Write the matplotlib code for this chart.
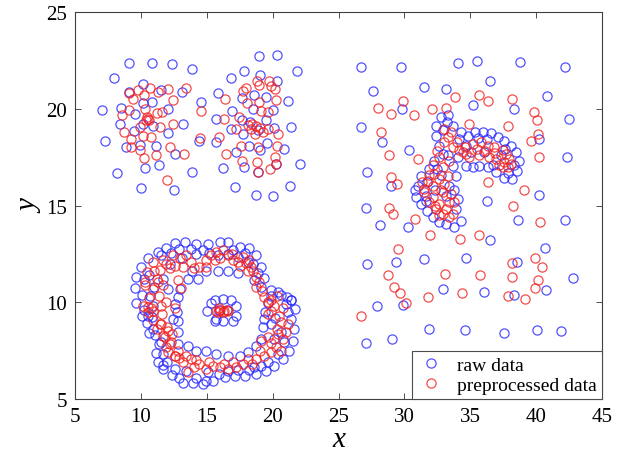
import matplotlib
matplotlib.use('Agg')
import matplotlib.pyplot as plt

# ---- raw data (blue) ----
raw_blob_left = [
    (9.09, 22.38), (10.81, 22.38), (12.37, 22.33), (7.95, 21.59), (10.18, 21.3), (11.52, 20.99),
    (13.08, 20.87), (9.09, 20.87), (7.07, 19.95), (8.46, 20.04), (10.12, 20.3), (10.81, 20.38),
    (9.55, 19.74), (12.07, 20.0), (8.41, 19.23), (10.18, 19.23), (10.89, 19.1), (9.47, 18.88),
    (12.02, 18.76), (7.27, 18.33), (8.86, 18.02), (9.92, 18.14), (11.11, 18.1), (12.58, 17.67),
    (10.3, 16.93), (11.39, 17.12), (8.16, 16.67), (9.98, 15.92), (12.5, 15.83),
]
raw_blob_right = [
    (18.94, 22.73), (20.35, 22.8), (13.89, 22.07), (17.83, 21.97), (16.87, 21.62), (19.02, 21.76),
    (20.33, 21.44), (21.84, 21.95), (15.86, 20.81), (14.55, 20.35), (17.63, 20.56), (18.56, 20.73),
    (19.47, 20.59), (21.16, 20.43), (16.94, 19.9), (18.5, 20.0), (20.02, 19.95), (15.66, 19.49),
    (13.16, 19.23), (17.7, 19.45), (19.47, 19.4), (16.87, 18.97), (20.1, 19.0), (21.42, 19.05),
    (14.39, 18.36), (15.68, 18.28), (17.75, 18.71), (18.2, 18.1), (19.57, 18.24), (20.86, 17.93),
    (17.25, 17.76), (19.02, 17.85), (17.8, 17.02), (20.23, 17.16), (22.09, 17.16), (16.24, 16.93),
    (13.84, 16.73), (18.89, 16.76), (17.12, 15.95), (18.71, 15.55), (20.02, 15.52), (21.33, 15.99),
    (18.3, 19.3), (18.9, 18.9),
]
raw_ring = [
    (12.55, 13.05), (13.31, 13.11), (14.19, 13.0), (15.08, 13.0), (15.96, 13.11), (16.59, 13.11),
    (17.48, 12.88), (18.23, 12.8), (18.73, 12.45), (19.11, 11.84), (19.37, 11.24), (19.87, 10.64),
    (20.63, 10.38), (21.39, 10.12), (11.92, 12.8), (11.31, 12.59), (10.53, 12.28), (9.98, 11.84),
    (9.64, 11.33), (9.57, 10.73), (9.64, 9.95), (10.05, 9.28), (10.43, 8.93), (11.06, 8.31),
    (11.39, 7.85), (11.69, 7.33), (11.69, 6.76), (12.33, 6.24), (13.2, 5.83), (13.92, 5.83),
    (14.67, 5.78), (15.48, 5.95), (16.34, 6.12), (17.1, 6.21), (17.86, 6.21), (18.73, 6.29),
    (19.49, 6.46), (20.13, 6.72), (20.76, 7.07), (21.27, 7.5), (21.52, 8.02), (21.64, 8.62),
    (21.39, 9.14), (21.14, 9.49), (21.67, 9.66), (21.42, 10.09), (21.08, 10.26), (20.4, 10.52),
    (11.54, 12.45), (12.3, 12.54), (15.2, 12.54), (15.83, 12.45), (17.35, 12.36), (18.11, 12.1),
    (14.95, 11.59), (15.81, 11.59), (16.59, 11.59), (17.35, 11.5), (18.61, 11.16), (19.11, 10.81),
    (13.84, 11.64), (14.34, 11.21), (13.58, 11.21), (12.83, 10.26), (12.95, 10.69), (12.58, 9.91),
    (12.7, 9.49), (12.45, 9.14), (12.83, 9.05), (10.93, 9.83), (10.68, 10.34), (10.81, 9.23),
    (12.07, 10.69), (11.69, 11.21), (10.53, 9.31), (10.91, 8.62), (11.54, 7.93), (12.8, 8.45),
    (12.8, 7.85), (13.56, 7.76), (14.19, 7.5), (14.95, 7.5), (15.7, 7.33), (16.59, 7.24),
    (17.48, 7.24), (18.11, 7.42), (18.73, 7.76), (19.11, 8.1), (19.24, 8.71), (19.37, 9.14),
    (19.87, 8.88), (20.13, 8.1), (20.63, 8.45), (20.88, 7.93), (11.67, 6.55), (12.55, 6.55),
    (13.43, 6.46), (15.08, 6.38), (16.59, 6.46), (18.61, 6.64), (19.62, 6.9), (19.9, 10.34),
    (19.64, 9.97), (19.39, 9.49), (10.6, 11.4), (11.0, 10.8), (12.2, 12.0), (13.1, 12.3),
    (14.2, 12.5), (16.6, 12.5), (12.9, 12.75), (13.8, 12.75), (14.7, 12.7), (17.0, 12.7),
    (17.9, 12.55), (18.5, 12.0), (18.9, 11.5), (10.2, 11.2), (10.1, 10.4), (10.2, 9.6),
    (10.6, 8.4), (11.1, 7.4), (11.3, 6.9), (12.0, 6.9), (12.9, 6.1), (14.2, 6.1),
    (14.9, 5.95), (15.9, 6.3), (17.4, 6.5), (18.2, 6.5), (19.1, 6.7), (20.4, 7.3),
    (21.0, 9.9), (20.2, 9.2),
]
raw_core = [
    (15.61, 10.09), (16.24, 10.17), (16.87, 10.09), (17.25, 9.83), (17.25, 9.31), (17.0, 9.05),
    (16.24, 9.05), (15.61, 9.05), (14.98, 9.57), (15.35, 9.97), (15.73, 9.14), (15.95, 9.6),
    (16.5, 9.6),
]
raw_arc = [
    (34.8, 18.62), (35.38, 18.8), (35.98, 18.83), (36.57, 18.74), (37.07, 18.54), (37.58, 18.36),
    (38.08, 18.1), (38.46, 17.76), (38.71, 17.33), (38.58, 16.81), (38.2, 16.38), (37.58, 16.42),
    (36.95, 16.73), (36.31, 16.98), (35.68, 17.07), (35.17, 16.98), (34.67, 17.07), (35.05, 17.76),
    (36.06, 17.76), (37.32, 17.59), (32.78, 19.57), (33.28, 19.66), (33.66, 19.14), (32.4, 19.14),
    (32.4, 18.62), (32.65, 18.1), (32.9, 17.67), (32.27, 17.33), (31.89, 16.9), (31.26, 16.55),
    (31.0, 16.03), (30.83, 15.78), (34.17, 18.45), (34.67, 18.1), (34.04, 17.5), (33.66, 17.07),
    (33.92, 16.55), (33.41, 16.03), (33.16, 15.52), (31.64, 15.52), (30.88, 15.43), (31.26, 15.09),
    (31.69, 14.74), (32.14, 14.4), (32.65, 14.14), (33.16, 14.05), (33.74, 13.91), (34.29, 14.22),
    (33.92, 14.83), (34.04, 15.35), (31.64, 15.26), (33.2, 19.3), (32.9, 18.9), (34.3, 18.8),
    (35.6, 18.5), (36.3, 18.45), (37.6, 17.9), (38.3, 17.1), (37.9, 16.7), (36.7, 17.1),
    (33.3, 17.6), (32.5, 16.9), (32.8, 16.6), (31.7, 16.2), (32.3, 15.8), (33.8, 15.8),
]
raw_noise = [
    (26.67, 22.16), (29.75, 22.16), (34.09, 22.38), (27.6, 20.9), (31.52, 21.13), (33.16, 21.04),
    (29.82, 19.97), (26.72, 19.06), (28.28, 18.28), (30.33, 17.88), (27.17, 16.73), (28.98, 16.03),
    (35.48, 22.5), (38.79, 22.42), (42.2, 22.16), (36.49, 21.44), (35.17, 20.21), (38.33, 20.0),
    (40.86, 20.66), (42.5, 19.49), (40.23, 18.45), (42.37, 17.5), (40.23, 15.55), (27.1, 14.86),
    (28.11, 13.97), (30.25, 13.88), (27.17, 11.98), (29.36, 12.07), (31.46, 12.24), (34.67, 12.27),
    (32.95, 10.69), (27.93, 9.8), (29.87, 9.86), (31.89, 8.62), (34.62, 8.57), (29.07, 8.1),
    (27.1, 7.9), (36.26, 15.26), (38.64, 14.26), (42.2, 14.26), (36.52, 13.23), (40.66, 12.81),
    (38.53, 12.1), (42.8, 11.26), (36.06, 10.52), (38.33, 10.4), (40.72, 10.65), (37.58, 8.41),
    (40.1, 8.57), (41.92, 8.5),
]

# ---- preprocessed data (red) ----
pre_blob_left = [
    (9.09, 20.83), (9.8, 21.0), (10.68, 21.07), (11.31, 20.87), (12.07, 21.04), (13.4, 21.07),
    (9.37, 20.52), (10.25, 20.73), (12.45, 20.48), (9.11, 19.95), (8.53, 19.69), (10.3, 20.0),
    (11.19, 19.8), (11.57, 19.83), (10.48, 19.57), (10.53, 19.48), (10.6, 19.4), (10.4, 19.45),
    (9.92, 19.05), (8.73, 18.83), (11.44, 19.05), (12.45, 19.23), (9.22, 18.45), (10.18, 18.62),
    (10.76, 18.54), (9.24, 18.02), (9.92, 17.85), (12.2, 18.02), (13.26, 17.67), (10.23, 17.47),
    (11.14, 17.64), (11.95, 16.33),
]
pre_blob_right = [
    (18.81, 21.42), (19.72, 21.42), (18.96, 21.25), (17.75, 20.95), (17.95, 21.07), (20.15, 21.04),
    (19.89, 21.21), (16.36, 20.52), (14.52, 19.91), (18.05, 20.3), (18.96, 20.35), (20.27, 20.47),
    (19.09, 19.91), (19.64, 19.86), (16.31, 19.49), (17.45, 19.57), (18.13, 19.17), (18.71, 19.1),
    (18.38, 18.97), (19.07, 19.0), (18.64, 18.71), (19.27, 18.8), (18.46, 19.23), (17.25, 18.97),
    (19.64, 18.97), (20.4, 18.71), (14.47, 18.5), (15.93, 18.54), (17.58, 18.1), (18.89, 18.02),
    (20.33, 18.07), (16.49, 17.67), (17.7, 17.33), (18.81, 17.24), (20.15, 17.5), (20.27, 17.16),
    (19.82, 16.9), (18.91, 16.76),
]
pre_ring = [
    (10.91, 12.1), (11.67, 12.19), (12.42, 12.45), (12.93, 12.28), (13.43, 12.45), (14.06, 11.76),
    (14.44, 11.84), (15.33, 12.45), (15.7, 12.62), (16.21, 12.71), (16.59, 12.45), (16.97, 12.19),
    (17.35, 12.1), (17.73, 12.36), (17.98, 12.02), (18.36, 11.84), (18.48, 11.59), (18.73, 11.33),
    (18.98, 11.07), (19.37, 10.29), (19.62, 10.03), (20.13, 9.78), (11.29, 11.07), (10.28, 10.9),
    (11.41, 11.67), (12.8, 11.16), (13.05, 10.73), (10.15, 9.78), (10.78, 9.69), (11.54, 9.78),
    (12.55, 9.69), (15.58, 12.19), (14.95, 11.84), (12.17, 11.76), (10.53, 9.49), (11.54, 8.88),
    (12.05, 8.53), (11.79, 8.19), (12.3, 7.93), (12.05, 7.42), (12.55, 7.24), (12.8, 7.5),
    (13.18, 6.9), (13.81, 7.07), (14.44, 6.81), (14.95, 6.55), (15.45, 6.72), (15.96, 6.64),
    (16.59, 6.55), (17.22, 6.64), (17.73, 6.81), (18.11, 7.07), (18.73, 7.07), (19.37, 7.24),
    (19.87, 7.42), (20.25, 7.67), (20.63, 7.5), (19.11, 8.02), (19.62, 8.19), (20.38, 8.36),
    (21.0, 8.45), (21.14, 8.88), (19.62, 9.4), (19.87, 9.57), (20.5, 9.31), (14.06, 6.64),
    (13.56, 6.38), (10.43, 11.55), (10.3, 11.04), (11.19, 11.21), (10.55, 9.74), (10.93, 9.57),
    (11.57, 9.4), (11.44, 8.88), (11.95, 8.71), (11.69, 8.27), (12.33, 8.36), (12.2, 7.85),
    (12.58, 7.24), (20.3, 10.3), (20.8, 9.7), (11.0, 11.6), (11.9, 12.0), (12.6, 11.9),
    (13.2, 11.8), (13.8, 12.1), (14.9, 12.2), (16.0, 12.3), (16.9, 12.5), (17.5, 11.85),
    (18.1, 11.6), (18.2, 12.2), (18.7, 10.8), (19.2, 10.6), (19.9, 10.1), (20.6, 9.0),
    (20.3, 8.6), (20.8, 8.1), (19.9, 7.9), (19.0, 7.5), (18.4, 6.8), (17.0, 6.9),
    (16.3, 6.8), (15.2, 6.9), (14.2, 7.0), (13.4, 7.2), (12.9, 7.1), (11.9, 7.7),
    (11.2, 8.6), (10.9, 9.1), (10.6, 10.2), (11.4, 10.3), (11.9, 10.0), (10.9, 10.7),
    (11.7, 10.9),
]
pre_core = [
    (15.7, 9.55), (15.85, 9.5), (16.0, 9.62), (16.3, 9.55), (16.5, 9.62), (16.62, 9.55),
    (15.9, 9.68), (16.2, 9.48),
]
pre_arc = [
    (35.17, 18.19), (35.8, 18.28), (36.31, 18.1), (36.82, 18.02), (37.45, 17.85), (37.7, 17.67),
    (37.95, 17.42), (38.08, 17.16), (37.58, 17.25), (36.95, 17.42), (36.44, 17.5), (35.68, 17.59),
    (34.92, 17.5), (34.42, 17.76), (37.45, 16.98), (34.6, 18.05), (33.03, 18.97), (33.28, 18.54),
    (33.66, 18.02), (33.03, 18.28), (34.17, 17.85), (32.65, 17.5), (33.41, 17.33), (32.9, 16.98),
    (32.27, 16.64), (31.77, 16.29), (32.65, 16.38), (33.28, 16.55), (31.52, 15.86), (32.14, 16.03),
    (32.78, 15.78), (34.67, 17.67), (31.52, 15.69), (32.14, 15.43), (32.65, 15.09), (33.16, 14.83),
    (33.66, 14.57), (32.9, 14.57), (33.41, 15.17), (32.4, 14.83), (32.9, 15.69), (33.53, 15.6),
    (33.5, 18.8), (34.0, 18.3), (35.5, 17.9), (36.1, 17.8), (36.9, 17.7), (37.2, 17.1),
    (37.9, 17.0), (32.5, 17.8), (32.2, 17.1), (31.9, 16.6), (31.3, 16.2), (33.0, 16.1),
    (31.9, 15.2), (32.3, 15.0), (33.8, 15.2), (32.6, 14.5), (33.4, 14.4),
]
pre_noise = [
    (29.87, 20.39), (27.98, 20.04), (28.98, 19.74), (30.76, 19.66), (32.1, 19.97), (33.16, 20.04),
    (33.86, 20.6), (28.23, 18.8), (28.81, 17.59), (31.06, 17.42), (28.98, 16.47), (29.45, 16.12),
    (34.92, 19.23), (35.63, 20.73), (36.36, 20.39), (38.2, 20.49), (39.85, 19.83), (40.05, 19.4),
    (37.9, 19.14), (40.17, 18.71), (39.59, 18.36), (40.23, 17.5), (36.31, 16.21), (39.09, 15.78),
    (28.81, 14.88), (29.17, 14.57), (30.8, 14.28), (31.97, 13.48), (34.24, 13.28), (29.49, 12.76),
    (28.73, 11.43), (33.08, 11.47), (29.24, 10.81), (29.7, 10.48), (31.77, 10.26), (34.36, 10.48),
    (30.13, 9.97), (26.72, 9.31), (38.28, 14.96), (40.27, 14.17), (35.68, 13.5), (39.89, 12.29),
    (38.2, 12.03), (40.43, 11.84), (35.73, 11.43), (38.15, 11.33), (40.15, 11.16), (39.89, 10.74),
    (37.9, 10.31), (39.14, 10.17),
]

x_ticks = [5, 10, 15, 20, 25, 30, 35, 40, 45]
y_ticks = [5, 10, 15, 20, 25]

raw = raw_blob_left + raw_blob_right + raw_ring + raw_core + raw_arc + raw_noise
pre = pre_blob_left + pre_blob_right + pre_ring + pre_core + pre_arc + pre_noise

plt.rcParams['font.family'] = ['Liberation Serif', 'DejaVu Serif']

fig = plt.figure(figsize=(6.37, 4.56), dpi=100)
ax = fig.add_axes([0.118, 0.123, 0.827, 0.848])

ax.plot([p[0] for p in raw], [p[1] for p in raw], 'o', ls='none', mfc='none',
        mec=(0.15, 0.15, 1.0), ms=6.6, mew=0.9, alpha=0.8, label='raw data')
ax.plot([p[0] for p in pre], [p[1] for p in pre], 'o', ls='none', mfc='none',
        mec=(0.95, 0.12, 0.12), ms=6.6, mew=0.9, alpha=0.8, label='preprocessed data')

ax.set_xlim(5, 45)
ax.set_ylim(5, 25)
ax.set_xticks(x_ticks)
ax.set_yticks(y_ticks)
ax.tick_params(direction='in', top=True, right=True, length=4, width=0.6,
               labelsize=15, color='0.2', pad=6)
for s in ax.spines.values():
    s.set_linewidth(0.8)
    s.set_color('0.25')

ax.set_xlabel('x', fontsize=21, style='italic', labelpad=0)
ax.set_ylabel('y', fontsize=21, style='italic', labelpad=2)

leg = ax.legend(loc='lower right', borderaxespad=0, fancybox=False, edgecolor='0.3',
                framealpha=1, fontsize=14, handletextpad=0.6, borderpad=0.25,
                labelspacing=0.15, handlelength=1.5)
leg.get_frame().set_linewidth(0.8)

fig.savefig('out.png', dpi=100)
